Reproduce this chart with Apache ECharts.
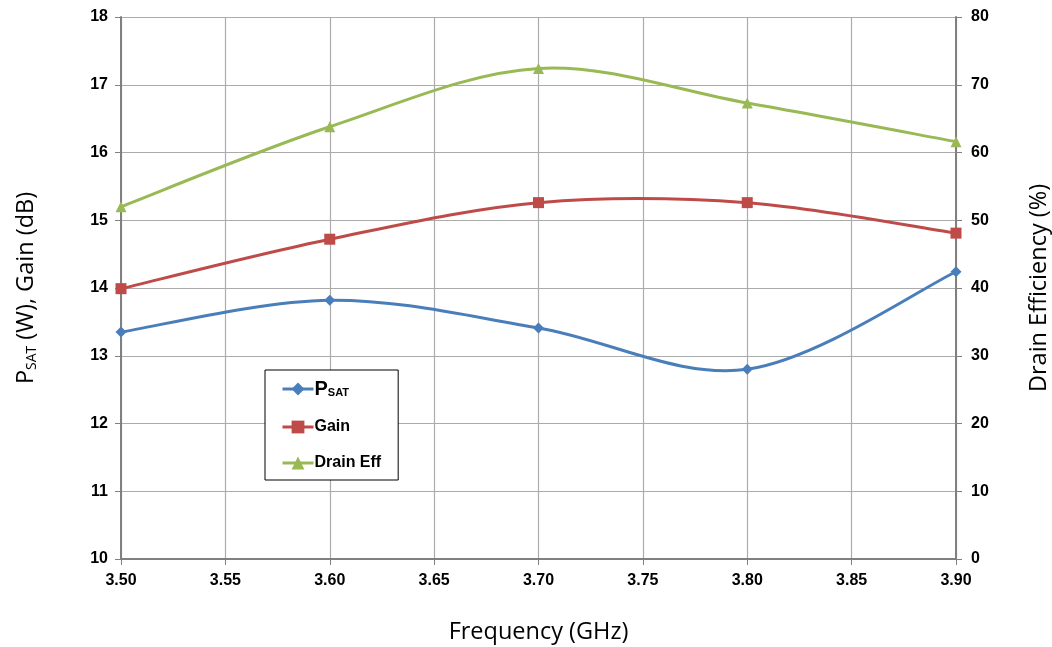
<!DOCTYPE html>
<html>
<head>
<meta charset="utf-8">
<script src="https://cdn.jsdelivr.net/npm/echarts@6/dist/echarts.min.js"></script>
<style>
  html, body { margin: 0; padding: 0; background: #fff; overflow: hidden; }
  #chart { width: 1052px; height: 647px; }
</style>
</head>
<body>
<div id="chart"></div>
<script>
// Frequency points (GHz)
const frequencies = [3.50, 3.60, 3.70, 3.80, 3.90];
// Saturated output power (W)
const psat = [13.35, 13.82, 13.41, 12.80, 14.24];
// Gain (dB)
const gain = [13.99, 14.72, 15.26, 15.26, 14.81];
// Drain efficiency (%)
const drainEff = [52.0, 63.8, 72.4, 67.3, 61.6];

const pairs = (ys) => frequencies.map((f, i) => [f, ys[i]]);

const colors = { psat: '#4a7ebb', gain: '#be4b48', eff: '#98b954' };

// Smooth curve through the points: one cubic Bezier per segment,
// Catmull-Rom style control points computed in pixel space.
function curveSeries(name, ys, color, yAxisIndex) {
  return {
    name: name + ' curve',
    type: 'custom',
    yAxisIndex: yAxisIndex,
    data: pairs(ys),
    silent: true,
    z: 2,
    renderItem: (params, api) => {
      const i = params.dataIndex;
      const n = frequencies.length;
      if (i >= n - 1) return null;
      const pt = (k) => api.coord([frequencies[Math.max(0, Math.min(n - 1, k))], ys[Math.max(0, Math.min(n - 1, k))]]);
      const p0 = pt(i - 1), p1 = pt(i), p2 = pt(i + 1), p3 = pt(i + 2);
      const t = 1 / 6;
      return {
        type: 'bezierCurve',
        shape: {
          x1: p1[0], y1: p1[1],
          x2: p2[0], y2: p2[1],
          cpx1: p1[0] + (p2[0] - p0[0]) * t,
          cpy1: p1[1] + (p2[1] - p0[1]) * t,
          cpx2: p2[0] - (p3[0] - p1[0]) * t,
          cpy2: p2[1] - (p3[1] - p1[1]) * t
        },
        style: { stroke: color, lineWidth: 3, fill: null }
      };
    }
  };
}

// Marker series (line hidden; the curve is drawn by the custom series)
function markerSeries(name, ys, color, symbol, size, yAxisIndex) {
  return {
    name: name,
    type: 'line',
    yAxisIndex: yAxisIndex,
    data: pairs(ys),
    symbol: symbol,
    symbolSize: size,
    showSymbol: true,
    color: color,
    itemStyle: { color: color },
    lineStyle: { width: 3, opacity: 0 },
    z: 3
  };
}

const tickFont = { fontFamily: 'Liberation Sans, Arial, sans-serif', fontWeight: 'bold', fontSize: 16, color: '#000' };
const titleFont = 'Open Sans, Noto Sans, sans-serif';
const gridLine = { show: true, lineStyle: { color: '#ababab', width: 1.2 } };
const axisLine = { show: true, lineStyle: { color: '#808080', width: 2 } };
const axisTick = { show: true, length: 6, lineStyle: { color: '#808080', width: 1 } };

const chart = echarts.init(document.getElementById('chart'));
chart.setOption({
  animation: false,
  backgroundColor: '#fff',
  grid: { left: 121, right: 96, top: 17, bottom: 88, containLabel: false, outerBoundsMode: 'none' },
  legend: {
    orient: 'vertical',
    left: 265,
    top: 370,
    padding: [9, 17, 9, 16],
    itemGap: 20,
    itemWidth: 31,
    itemHeight: 16,
    borderColor: '#000',
    borderWidth: 1,
    backgroundColor: '#fff',
    lineStyle: { width: 3, opacity: 1 },
    textStyle: { fontFamily: 'Liberation Sans, Arial, sans-serif', fontWeight: 'bold', fontSize: 16, color: '#000', padding: [0, 0, 0, -4],
      rich: {
        p: { fontFamily: 'Liberation Sans, Arial, sans-serif', fontWeight: 'bold', fontSize: 20, color: '#000' },
        sub: { fontFamily: 'Liberation Sans, Arial, sans-serif', fontWeight: 'bold', fontSize: 11, color: '#000', padding: [8, 0, 0, 0] }
      }
    },
    formatter: (name) => name === 'PSAT' ? '{p|P}{sub|SAT}' : name,
    data: ['PSAT', 'Gain', 'Drain Eff']
  },
  xAxis: {
    type: 'value',
    min: 3.5,
    max: 3.9,
    interval: 0.05,
    name: 'Frequency (GHz)',
    nameLocation: 'middle',
    nameGap: 61,
    nameTextStyle: { fontFamily: titleFont, fontSize: 23.5, color: '#000' },
    axisLabel: { ...tickFont, margin: 14, formatter: (v) => v.toFixed(2) },
    axisLine: axisLine,
    axisTick: axisTick,
    splitLine: gridLine
  },
  yAxis: [
    {
      type: 'value',
      min: 10,
      max: 18,
      interval: 1,
      name: '{p|P}{sub|SAT}{p| (W), Gain (dB)}',
      nameLocation: 'middle',
      nameGap: 82,
      nameRotate: 90,
      nameTextStyle: {
        rich: {
          p: { fontFamily: titleFont, fontSize: 23.5, color: '#000' },
          sub: { fontFamily: titleFont, fontSize: 14, color: '#000', padding: [11, 0, 0, 0] }
        }
      },
      axisLabel: { ...tickFont, margin: 13 },
      axisLine: axisLine,
      axisTick: axisTick,
      splitLine: gridLine
    },
    {
      type: 'value',
      min: 0,
      max: 80,
      interval: 10,
      name: 'Drain Efficiency (%)',
      nameLocation: 'middle',
      nameGap: 71,
      nameRotate: 90,
      nameTextStyle: { fontFamily: titleFont, fontSize: 23.5, color: '#000' },
      axisLabel: { ...tickFont, margin: 15 },
      axisLine: axisLine,
      axisTick: axisTick,
      splitLine: { show: false }
    }
  ],
  series: [
    curveSeries('PSAT', psat, colors.psat, 0),
    curveSeries('Gain', gain, colors.gain, 0),
    curveSeries('Drain Eff', drainEff, colors.eff, 1),
    markerSeries('PSAT', psat, colors.psat, 'diamond', 11, 0),
    markerSeries('Gain', gain, colors.gain, 'rect', 11, 0),
    markerSeries('Drain Eff', drainEff, colors.eff, 'triangle', 11, 1)
  ]
});
</script>
</body>
</html>
